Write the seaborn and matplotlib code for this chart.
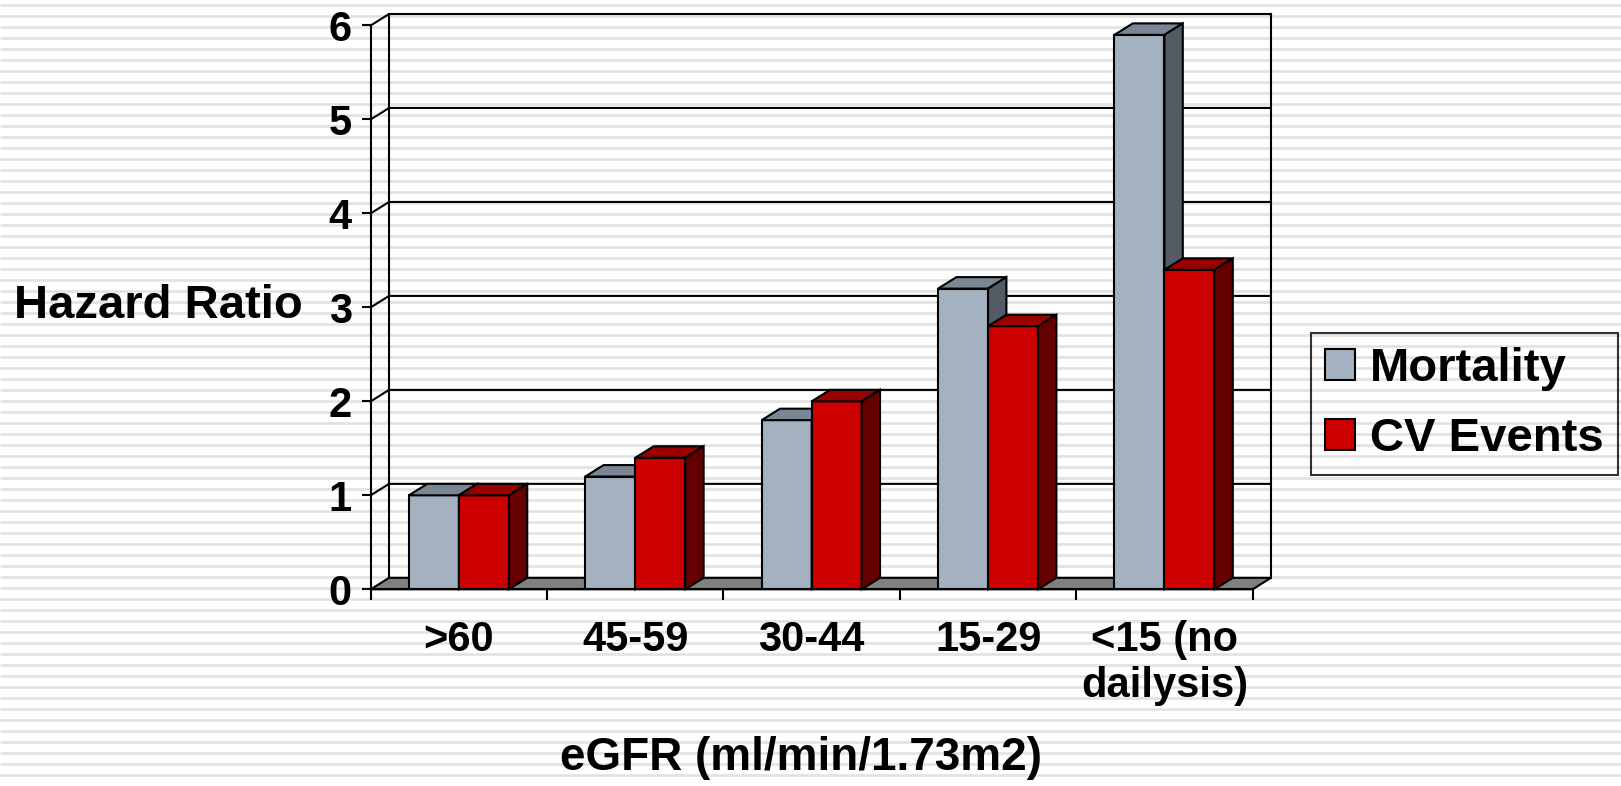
import numpy as np
import pandas as pd
import matplotlib
matplotlib.use("Agg")
import matplotlib.pyplot as plt
from matplotlib.patches import Polygon, Patch
import seaborn as sns

# Hazard ratios by kidney-function group
categories = [">60", "45-59", "30-44", "15-29", "<15 (no\ndailysis)"]
series_names = ["Mortality", "CV Events"]
mortality = [1.0, 1.2, 1.8, 3.2, 5.9]
cv_events = [1.0, 1.4, 2.0, 2.8, 3.4]
y_ticks = [0, 1, 2, 3, 4, 5, 6]

# face colours: front, top, side for each series
front_colors = ["#a3b1c0", "#cc0000"]
top_colors = ["#7a8694", "#990000"]
side_colors = ["#535c66", "#660000"]
floor_color = "#808080"

W, H, DPI = 1621, 786, 100
DX = 0.104   # depth offset along the category axis
DY = 0.122   # depth offset along the value axis
LW = 1.5

plt.rcParams["font.family"] = ["Liberation Sans", "DejaVu Sans"]
plt.rcParams["font.weight"] = "bold"

fig = plt.figure(figsize=(W / DPI, H / DPI), dpi=DPI, facecolor="white")

# striped slide background
bg = fig.add_axes([0, 0, 1, 1], zorder=-5)
bg.set_xlim(0, 1)
bg.set_ylim(H, 0)
bg.axis("off")
bg.hlines(np.arange(5.3, H, 11), 0, 1, color="#e2e2e2", lw=1.95)

L, R, T, B = 370.7, 1271.0, 14.0, 589.3
ax = fig.add_axes([L / W, 1 - B / H, (R - L) / W, (B - T) / H])
ax.patch.set_visible(False)

ncat = len(categories)
df = pd.DataFrame({
    "eGFR": categories * 2,
    "Outcome": [series_names[0]] * ncat + [series_names[1]] * ncat,
    "HR": mortality + cv_events,
})
sns.barplot(data=df, x="eGFR", y="HR", hue="Outcome", order=categories,
            hue_order=series_names, palette=front_colors, saturation=1,
            width=0.567, edgecolor="black", linewidth=LW, errorbar=None,
            legend=False, ax=ax)

ax.set_xlim(-0.5, ncat - 0.5 + DX)
ax.set_ylim(0, y_ticks[-1] + DY)

# back wall with gridlines and the left side wall
xl, xr = -0.5, ncat - 0.5
for t in y_ticks[1:]:
    ax.plot([xl, xl + DX, xr + DX], [t, t + DY, t + DY], color="black",
            lw=LW, zorder=2, clip_on=False, solid_joinstyle="miter")
for xv in (xl + DX, xr + DX):
    ax.plot([xv, xv], [DY, y_ticks[-1] + DY], color="black", lw=LW,
            zorder=2, clip_on=False)

# floor
ax.add_patch(Polygon([(xl, 0), (xr, 0), (xr + DX, DY), (xl + DX, DY)],
                     closed=True, fc=floor_color, ec="black", lw=LW,
                     zorder=3, clip_on=False))

# extrude each seaborn bar into a box
bars = []
for i, p in enumerate(list(ax.patches)[:2 * ncat]):
    bars.append((p.get_x(), i // ncat, p))
bars.sort(key=lambda b: (b[0], b[1]))
for k, (x0, s, p) in enumerate(bars):
    x1 = x0 + p.get_width()
    h = p.get_height()
    z = 10 + 3 * k
    p.set_zorder(z)
    ax.add_patch(Polygon([(x0, h), (x1, h), (x1 + DX, h + DY), (x0 + DX, h + DY)],
                         closed=True, fc=top_colors[s], ec="black", lw=LW,
                         zorder=z + 1, clip_on=False))
    ax.add_patch(Polygon([(x1, 0), (x1 + DX, DY), (x1 + DX, h + DY), (x1, h)],
                         closed=True, fc=side_colors[s], ec="black", lw=LW,
                         zorder=z + 2, clip_on=False))

# axes lines and ticks
for side in ("top", "right"):
    ax.spines[side].set_visible(False)
ax.spines["left"].set_bounds(0, y_ticks[-1])
ax.spines["bottom"].set_bounds(xl, xr)
for side in ("left", "bottom"):
    ax.spines[side].set_linewidth(LW)
    ax.spines[side].set_zorder(4)

ax.set_yticks(y_ticks)
ax.set_yticklabels([str(t) for t in y_ticks])
ax.tick_params(axis="y", length=6.5, width=LW, pad=7, labelsize=30)
ax.set_xticks(range(ncat))
ax.set_xticklabels(categories, linespacing=1.2)
ax.set_xticks(np.arange(xl, xr + 0.01, 1.0), minor=True)
ax.tick_params(axis="x", which="major", length=0, pad=22, labelsize=30)
ax.tick_params(axis="x", which="minor", length=8, width=LW, direction="out")

ax.set_ylabel("Hazard Ratio", rotation=0, fontsize=34, fontweight="bold",
              ha="center", va="center")
ax.yaxis.set_label_coords(-0.2357, 0.4924)
ax.set_xlabel("eGFR (ml/min/1.73m2)", fontsize=33, fontweight="bold",
              va="baseline")
ax.xaxis.set_label_coords(0.4774, -0.3141)

handles = [Patch(fc=front_colors[i], ec="black", lw=LW) for i in range(2)]
leg = fig.legend(handles, series_names, loc="upper left",
                 bbox_to_anchor=(1310.7 / W, 1 - 333.0 / H), borderaxespad=0,
                 fontsize=34, handlelength=0.64, handleheight=0.62,
                 handletextpad=0.31, borderpad=0.3, labelspacing=0.55,
                 fancybox=False, edgecolor="black", facecolor="none",
                 framealpha=None)
leg.get_frame().set_linewidth(LW)

fig.savefig("out.png", dpi=DPI, facecolor="white")
